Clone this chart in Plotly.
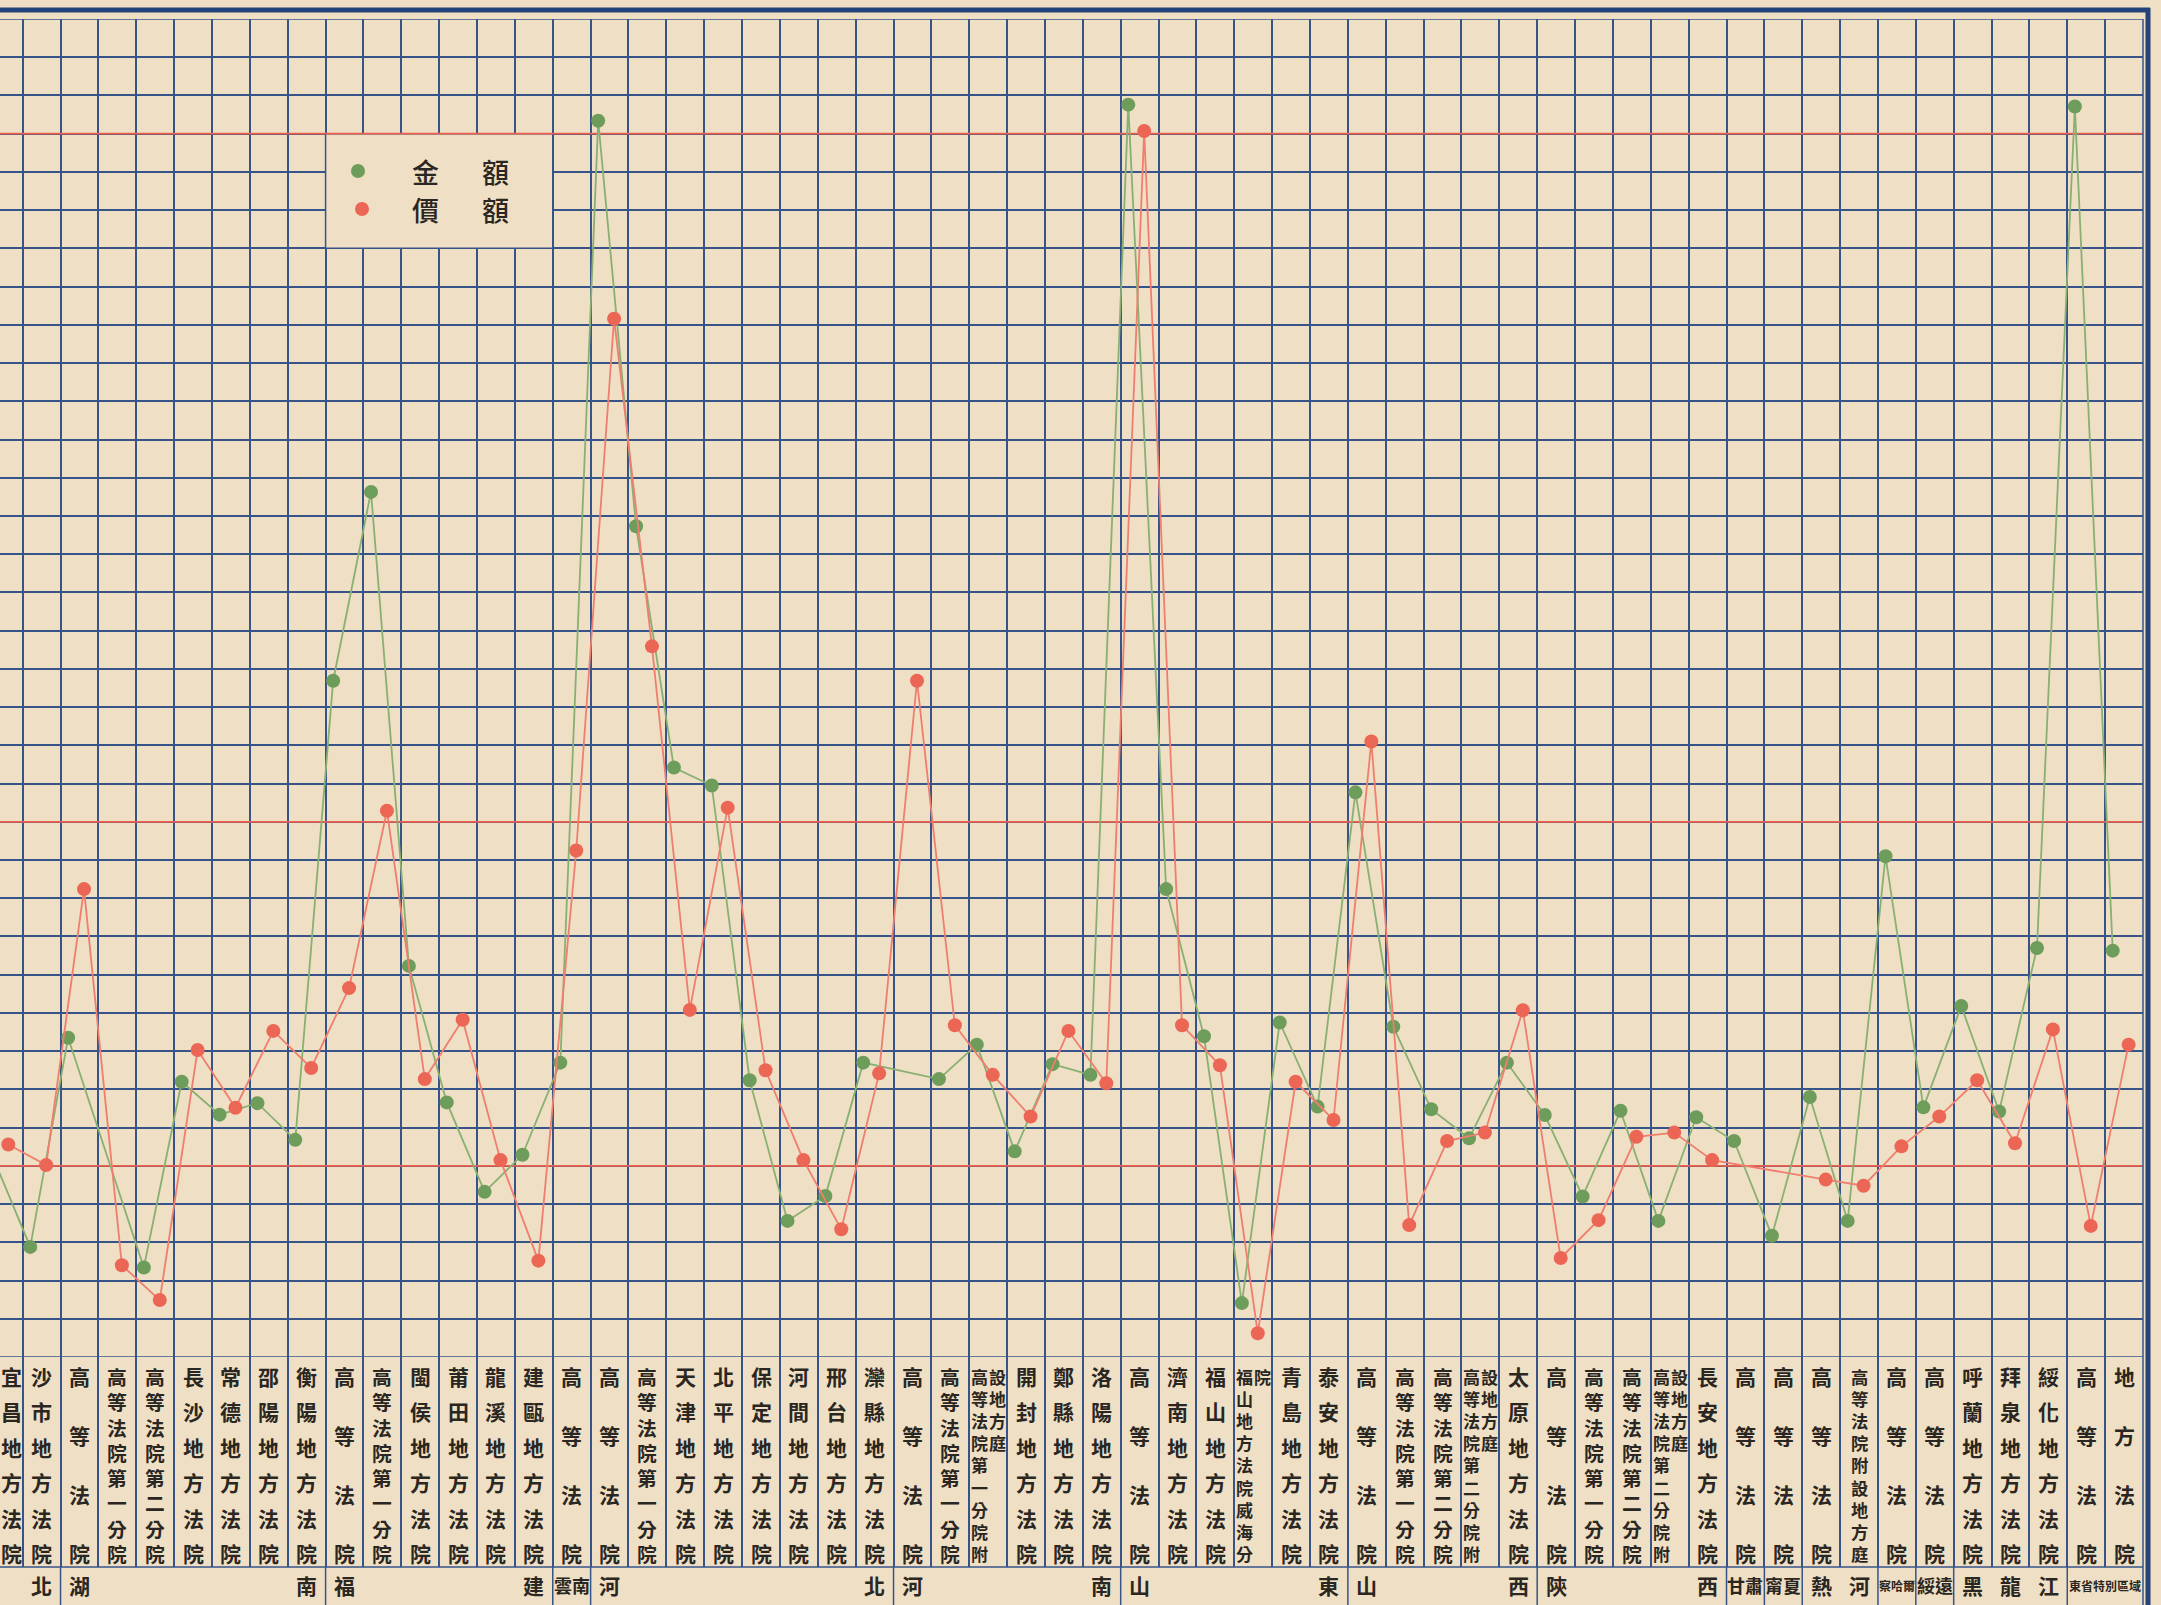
import plotly.graph_objects as go

# ---------------- data (in grid units) ----------------
labels = [
    "宜昌地方法院", "沙市地方法院", "高等法院", "高等法院第一分院", "高等法院第二分院",
    "長沙地方法院", "常德地方法院", "邵陽地方法院", "衡陽地方法院",
    "高等法院", "高等法院第一分院", "閩侯地方法院", "莆田地方法院", "龍溪地方法院", "建甌地方法院",
    "高等法院",
    "高等法院", "高等法院第一分院", "天津地方法院", "北平地方法院", "保定地方法院",
    "河間地方法院", "邢台地方法院", "灤縣地方法院",
    "高等法院", "高等法院第一分院", "高等法院第一分院附設地方庭", "開封地方法院", "鄭縣地方法院", "洛陽地方法院",
    "高等法院", "濟南地方法院", "福山地方法院", "福山地方法院威海分院", "青島地方法院", "泰安地方法院",
    "高等法院", "高等法院第一分院", "高等法院第二分院", "高等法院第二分院附設地方庭", "太原地方法院",
    "高等法院", "高等法院第一分院", "高等法院第二分院", "高等法院第二分院附設地方庭", "長安地方法院",
    "高等法院", "高等法院", "高等法院", "高等法院附設地方庭", "高等法院", "高等法院",
    "呼蘭地方法院", "拜泉地方法院", "綏化地方法院", "高等法院", "地方法院",
]

green_vals = [5.26, 2.88, 8.35, None, 2.34, 7.2, 6.34, 6.64, 5.68,
              17.69, 22.63, 10.23, 6.66, 4.32, 5.29,
              7.7,
              32.34, 21.73, 15.42, 14.95, 7.24, 3.56, 4.21, 7.7,
              None, 7.27, 8.17, 5.38, 7.66, 7.38,
              32.76, 12.24, 8.39, 1.41, 8.75, 6.55,
              14.77, 8.64, 6.48, 5.72, 7.7,
              6.33, 4.2, 6.44, 3.56, 6.27,
              5.65, 3.17, 6.8, 3.56, 13.1, 6.53,
              9.18, 6.42, 10.7, 32.71, 10.63]

red_vals = [5.56, 5.02, 12.24, 2.4, 1.49, 8.03, 6.52, 8.53, 7.56,
            9.65, 14.29, 7.27, 8.82, 5.15, 2.52,
            13.25,
            27.16, 18.59, 9.08, 14.37, 7.5, 5.15, 3.34, 7.42,
            17.69, 8.68, 7.38, 6.29, 8.53, 7.16,
            32.07, 8.68, 7.63, 0.62, 7.2, 6.2,
            16.1, 3.45, 5.65, 5.87, 9.07,
            2.59, 3.58, 5.76, 5.87, 5.15,
            None, None, 4.64, 4.48, 5.51, 6.29,
            7.24, 5.59, 8.57, 3.43, 8.17]

region_names = ["湖北", "湖南", "福建", "雲南", "河北", "河南", "山東", "山西", "陝西",
                "甘肅", "甯夏", "熱河", "察哈爾", "綏遠", "黑龍江", "東省特別區域"]
region_first = [-2, 3, 10, 16, 17, 25, 31, 37, 42, 47, 48, 49, 51, 52, 53, 56]
region_last = [2, 9, 15, 16, 24, 30, 36, 41, 46, 47, 48, 50, 51, 52, 55, 57]

rule_levels = [5, 14, 32]
legend_names = ["金額", "價額"]

# ---------------- layout geometry ----------------
W, H = 2161, 1605
MR, MT = 18, 19
PW, PH = W - MR, H - MT
Y_GRID_BOT = 1357
Y_LAB_BOT = 1567
XR = [-0.599, 56.0]
NROWS = 35


def py2paper(py):
    return (H - py) / PH


def px2paper(px):
    return px / PW


PAPER = "#efdfc4"
GRID = "#36548a"
BORDER = "#23437a"
RULE = "#ec604f"
GREEN = "#6e9d5b"
GREEN_LINE = "#88b073"
RED = "#ec6655"
RED_LINE = "#ef7e6e"
INK = "#2a2622"
FONT = "Noto Sans CJK TC, Noto Sans CJK JP, sans-serif"
GW = 1.5
LINE_SPACING = 1.3  # plotly's line height for multi-line text

n = len(labels)
cols = list(range(1, n + 1))
gx = [c - 2 + 0.2 for c in cols]
rx = [c - 2 + 0.62 for c in cols]

fig = go.Figure()
fig.add_trace(go.Scatter(x=gx, y=green_vals, name=legend_names[0], mode="lines+markers",
                         connectgaps=True, line=dict(color=GREEN_LINE, width=1.8),
                         marker=dict(size=14, color=GREEN), showlegend=False, hoverinfo="skip"))
fig.add_trace(go.Scatter(x=rx, y=red_vals, name=legend_names[1], mode="lines+markers",
                         connectgaps=True, line=dict(color=RED_LINE, width=1.8),
                         marker=dict(size=14, color=RED), showlegend=False, hoverinfo="skip"))
fig.add_trace(go.Scatter(x=[None], y=[None], xaxis="x2", yaxis="y2", showlegend=False))

grid_ax = dict(dtick=1, tick0=0, showgrid=True, gridcolor=GRID, gridwidth=GW,
               zeroline=False, showticklabels=False, ticks="", showline=False, fixedrange=True)

fig.update_layout(
    width=W, height=H,
    margin=dict(l=0, r=MR, t=MT, b=0, pad=0),
    paper_bgcolor=PAPER, plot_bgcolor=PAPER,
    xaxis=dict(range=XR, anchor="y", **grid_ax),
    yaxis=dict(range=[0, NROWS], anchor="x", domain=[py2paper(Y_GRID_BOT), 1], **grid_ax),
    xaxis2=dict(range=XR, anchor="y2", **grid_ax),
    yaxis2=dict(range=[Y_LAB_BOT, Y_GRID_BOT], anchor="x2",
                domain=[py2paper(Y_LAB_BOT), py2paper(Y_GRID_BOT)],
                showgrid=False, zeroline=False, showticklabels=False, fixedrange=True),
    showlegend=False,
)

shapes = []
shapes.append(dict(type="rect", xref="x", yref="y", x0=8, x1=14, y0=29, y1=32,
                   fillcolor=PAPER, line=dict(color=GRID, width=GW), layer="between"))
for lv in rule_levels:
    shapes.append(dict(type="line", xref="x", yref="y", x0=XR[0], x1=56, y0=lv, y1=lv,
                       line=dict(color=RULE, width=1.8), layer="between"))
shapes.append(dict(type="line", xref="paper", yref="y", x0=0, x1=1, y0=NROWS, y1=NROWS,
                   line=dict(color=GRID, width=GW)))
shapes.append(dict(type="line", xref="paper", yref="y", x0=0, x1=1, y0=0, y1=0,
                   line=dict(color=GRID, width=GW)))
shapes.append(dict(type="line", xref="paper", yref="paper", x0=0, x1=1,
                   y0=py2paper(Y_LAB_BOT), y1=py2paper(Y_LAB_BOT), line=dict(color=GRID, width=GW)))
shapes.append(dict(type="line", xref="paper", yref="paper", x0=1, x1=1, y0=0, y1=1,
                   line=dict(color=GRID, width=GW)))
shapes.append(dict(type="line", xref="paper", yref="paper", x0=0, x1=px2paper(2150),
                   y0=py2paper(10), y1=py2paper(10), line=dict(color=BORDER, width=5)))
shapes.append(dict(type="line", xref="paper", yref="paper", x0=px2paper(2148), x1=px2paper(2148),
                   y0=0, y1=py2paper(8), line=dict(color=BORDER, width=5)))
for f in region_first:
    k = f - 2
    if k >= 0:
        shapes.append(dict(type="line", xref="x", yref="paper", x0=k, x1=k,
                           y0=0, y1=py2paper(Y_LAB_BOT), line=dict(color=GRID, width=GW)))
for (cx, cy, col) in [(358, 171, GREEN), (362, 209, RED)]:
    shapes.append(dict(type="circle", xref="paper", yref="paper",
                       x0=px2paper(cx - 7), x1=px2paper(cx + 7),
                       y0=py2paper(cy + 7), y1=py2paper(cy - 7),
                       fillcolor=col, line=dict(width=0)))

annotations = []


def add_text(x, py, text, size, xref="x", weight=700, xanchor="center", yanchor="middle"):
    annotations.append(dict(x=x, y=py2paper(py), xref=xref, yref="paper", text=text,
                            showarrow=False, xanchor=xanchor, yanchor=yanchor, borderpad=0,
                            font=dict(family=FONT, size=size, color=INK, weight=weight)))


def add_vertical(x, chars, y_first, step, glyph, xref="x", xanchor="center"):
    """One vertical column of characters as a single multi-line text."""
    base = step / LINE_SPACING
    txt = "<br>".join("<span style='font-size:%.1fpx'>%s</span>" % (glyph, ch) for ch in chars)
    y_mid = y_first + step * (len(chars) - 1) / 2
    add_text(x, y_mid, txt, base, xref=xref, xanchor=xanchor)


Y_TOP_C, Y_BOT_C = 1376, 1553
for i, lab in enumerate(labels):
    xc = i - 0.5  # column centre (column c spans [c-2, c-1])
    xref, xa = "x", "center"
    if xc < XR[0] + 0.3:  # first, half-hidden column: keep its text inside the page
        xc, xref, xa = 0, "paper", "left"
    if len(lab) >= 10:
        left, right = lab[:9], lab[9:]
        step = (Y_BOT_C - Y_TOP_C) / 8
        add_vertical(xc - 0.23, left, Y_TOP_C, step, 17)
        add_vertical(xc + 0.25, right, Y_TOP_C, step, 17)
    else:
        m = len(lab)
        step = (Y_BOT_C - Y_TOP_C) / (m - 1)
        glyph = min(21, step / 1.28)
        add_vertical(xc, lab, Y_TOP_C, step, glyph, xref=xref, xanchor=xa)

# region row
Y_REG = 1585
for name, f, l in zip(region_names, region_first, region_last):
    ncol = l - f + 1
    if len(name) <= ncol:
        pos = [f, l] if len(name) == 2 else list(range(f, f + len(name)))
        for ch, c in zip(name, pos):
            if c >= 1:
                add_text(c - 1.5, Y_REG, ch, 21)
    else:
        size = min(19, ncol * 36 / len(name))
        add_text((f + l) / 2 - 1.5, Y_REG, name, size)

# legend texts
for (txt, cy) in [(legend_names[0], 171), (legend_names[1], 209)]:
    add_text(px2paper(425), cy, txt[0], 27, xref="paper", weight=500)
    add_text(px2paper(495), cy, txt[1], 27, xref="paper", weight=500)

fig.update_layout(shapes=shapes, annotations=annotations)
fig.write_html(
    "out.html",
    config={"displayModeBar": False},
    post_script=("document.body.style.margin='0';document.body.style.padding='0';"
                 "document.body.style.background='" + PAPER + "';"
                 "document.documentElement.style.overflow='hidden';"),
)
